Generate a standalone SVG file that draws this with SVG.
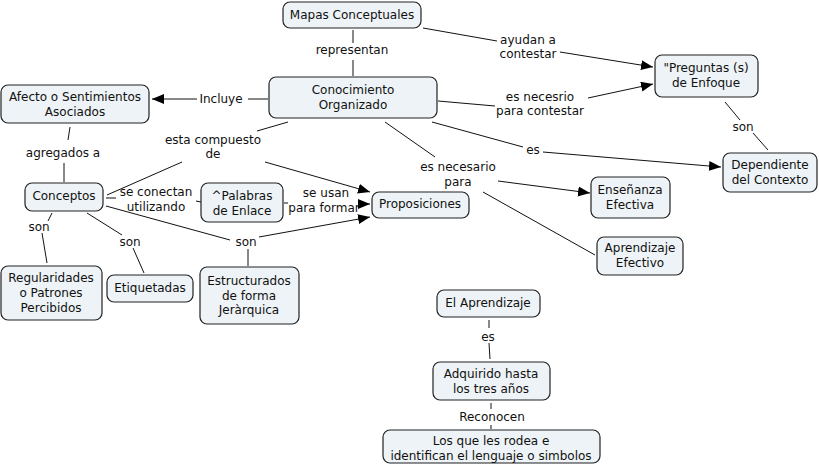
<svg xmlns="http://www.w3.org/2000/svg" width="819" height="474" viewBox="0 0 819 474">
<defs>
<style>
.n rect{fill:#edf3f6;stroke:#222;stroke-width:1.2}
text{font-family:"DejaVu Sans",Verdana,sans-serif;font-size:12px;fill:#111;text-anchor:middle}
.c line{stroke:#111;stroke-width:1}
.c line.a{marker-end:url(#ah)}
</style>
<marker id="ah" markerUnits="userSpaceOnUse" markerWidth="13" markerHeight="11" refX="12" refY="5" orient="auto">
<path d="M0,0 L12,5 L0,10 z" fill="#000"/>
</marker>
</defs>
<rect width="819" height="474" fill="#fff"/>
<g class="c" id="connectors">
<line x1="353" y1="30" x2="353" y2="43"/>
<line x1="353" y1="60" x2="353" y2="76"/>
<text x="352" y="54">representan</text>
<line x1="423" y1="28" x2="497" y2="41"/>
<line class="a" x1="560" y1="52" x2="653" y2="67"/>
<text x="528" y="44">ayudan a</text>
<text x="528" y="58">contestar</text>
<line x1="438" y1="101" x2="495" y2="106"/>
<line class="a" x1="588" y1="98" x2="653" y2="84"/>
<text x="540" y="101">es necesrio</text>
<text x="540" y="115">para contestar</text>
<line x1="432" y1="122" x2="523" y2="147"/>
<line class="a" x1="543" y1="152" x2="721" y2="167"/>
<text x="533" y="154">es</text>
<line x1="725" y1="102" x2="740" y2="120"/>
<line x1="753" y1="133" x2="768" y2="150"/>
<text x="743" y="131">son</text>
<line x1="385" y1="122" x2="435" y2="157"/>
<line class="a" x1="498" y1="181" x2="590" y2="193"/>
<line x1="483" y1="192" x2="595" y2="255"/>
<text x="458" y="171">es necesario</text>
<text x="458" y="186">para</text>
<line x1="268" y1="99" x2="248" y2="99"/>
<line class="a" x1="197" y1="99" x2="152" y2="99"/>
<text x="221" y="103">Incluye</text>
<line x1="288" y1="122" x2="257" y2="131"/>
<line x1="182" y1="162" x2="107" y2="195"/>
<line class="a" x1="265" y1="162" x2="370" y2="192"/>
<text x="213" y="144">esta compuesto</text>
<text x="213" y="158">de</text>
<line x1="106" y1="198" x2="116" y2="198"/>
<line x1="196" y1="201" x2="201" y2="202"/>
<text x="156" y="196">se conectan</text>
<text x="156" y="211">utilizando</text>
<line x1="284" y1="203" x2="288" y2="203"/>
<line class="a" x1="358" y1="204" x2="370" y2="204"/>
<text x="326" y="197">se usan</text>
<text x="324" y="212">para formar</text>
<line x1="106" y1="206" x2="230" y2="240"/>
<line class="a" x1="259" y1="237" x2="370" y2="217"/>
<line x1="248" y1="249" x2="248" y2="266"/>
<text x="246" y="246">son</text>
<line x1="52" y1="213" x2="48" y2="221"/>
<line x1="42" y1="233" x2="47" y2="263"/>
<text x="39" y="231">son</text>
<line x1="87" y1="213" x2="122" y2="235"/>
<line x1="133" y1="248" x2="144" y2="273"/>
<text x="130" y="246">son</text>
<line x1="70" y1="127" x2="68" y2="140"/>
<line x1="64" y1="163" x2="64" y2="182"/>
<text x="63" y="157">agregados a</text>
<line x1="489" y1="320" x2="489" y2="328"/>
<line x1="489" y1="343" x2="490" y2="359"/>
<text x="488" y="341">es</text>
<line x1="491" y1="403" x2="491" y2="409"/>
<line x1="491" y1="425" x2="491" y2="429"/>
<text x="492" y="421">Reconocen</text>
</g>
<g class="n" id="mapas"><rect x="283" y="2" width="138" height="26" rx="7"/><text x="352" y="19">Mapas Conceptuales</text></g>
<g class="n" id="conocimiento"><rect x="269" y="77" width="168" height="41" rx="7"/><text x="353" y="94">Conocimiento</text><text x="353" y="109">Organizado</text></g>
<g class="n" id="afecto"><rect x="1" y="85" width="148" height="38" rx="7"/><text x="75" y="101">Afecto o Sentimientos</text><text x="75" y="116">Asociados</text></g>
<g class="n" id="conceptos"><rect x="25" y="183" width="78" height="28" rx="7"/><text x="64" y="200">Conceptos</text></g>
<g class="n" id="palabras"><rect x="201" y="183" width="82" height="39" rx="7"/><text x="242" y="200">^Palabras</text><text x="242" y="215">de Enlace</text></g>
<g class="n" id="proposiciones"><rect x="372" y="192" width="97" height="26" rx="7"/><text x="420" y="208">Proposiciones</text></g>
<g class="n" id="preguntas"><rect x="655" y="55" width="103" height="42" rx="7"/><text x="706" y="72">"Preguntas (s)</text><text x="706" y="87">de Enfoque</text></g>
<g class="n" id="dependiente"><rect x="723" y="153" width="94" height="39" rx="7"/><text x="770" y="169">Dependiente</text><text x="770" y="184">del Contexto</text></g>
<g class="n" id="ensenanza"><rect x="591" y="177" width="79" height="41" rx="7"/><text x="630" y="194">Enseñanza</text><text x="630" y="209">Efectiva</text></g>
<g class="n" id="aprendizaje-efectivo"><rect x="597" y="237" width="86" height="38" rx="7"/><text x="640" y="252">Aprendizaje</text><text x="640" y="267">Efectivo</text></g>
<g class="n" id="regularidades"><rect x="1" y="266" width="101" height="54" rx="7"/><text x="51" y="282">Regularidades</text><text x="51" y="297">o Patrones</text><text x="51" y="312">Percibidos</text></g>
<g class="n" id="etiquetadas"><rect x="107" y="275" width="86" height="27" rx="7"/><text x="150" y="292">Etiquetadas</text></g>
<g class="n" id="estructurados"><rect x="200" y="267" width="99" height="57" rx="7"/><text x="249" y="285">Estructurados</text><text x="249" y="300">de forma</text><text x="249" y="314">Jeràrquica</text></g>
<g class="n" id="el-aprendizaje"><rect x="437" y="290" width="103" height="27" rx="7"/><text x="488" y="307">El Aprendizaje</text></g>
<g class="n" id="adquirido"><rect x="433" y="362" width="117" height="38" rx="7"/><text x="491" y="378">Adquirido hasta</text><text x="491" y="393">los tres años</text></g>
<g class="n" id="los-que"><rect x="383" y="430" width="217" height="33" rx="7"/><text x="491" y="445">Los que les rodea e</text><text x="491" y="460">identifican el lenguaje o simbolos</text></g>
</svg>
